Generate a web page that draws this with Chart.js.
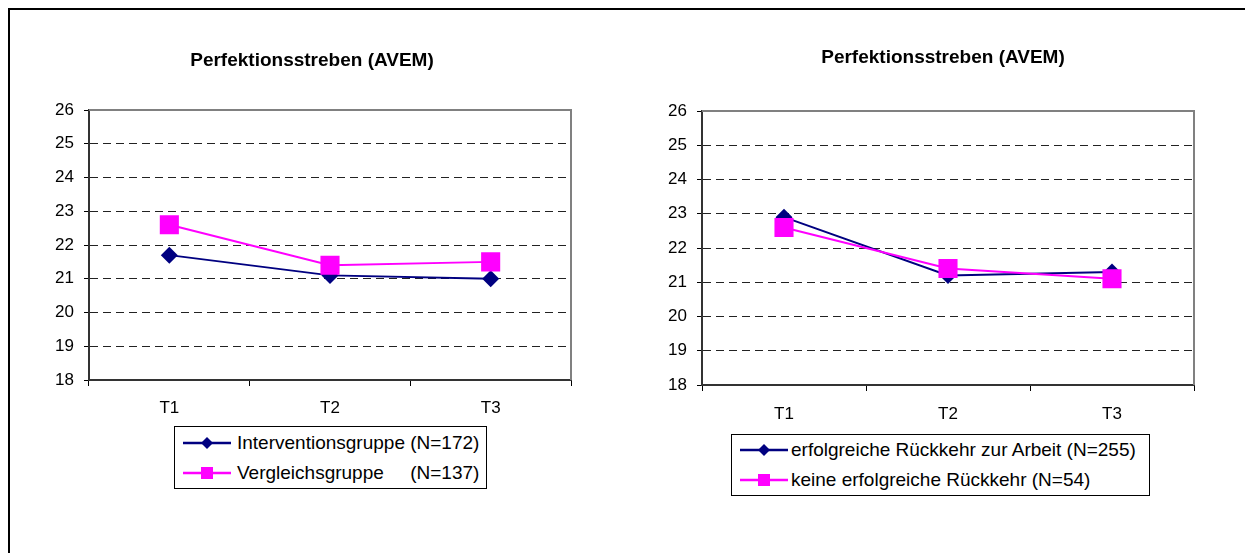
<!DOCTYPE html>
<html>
<head>
<meta charset="utf-8">
<script src="https://cdn.jsdelivr.net/npm/chart.js@4/dist/chart.umd.min.js"></script>
<style>
  html, body { margin: 0; padding: 0; background: #fff; font-family: 'Liberation Sans', Arial, sans-serif; overflow: hidden; }
  #page { position: relative; width: 1245px; height: 553px; overflow: hidden; }
  #frameTop { position: absolute; left: 8px; top: 8px; width: 1237px; height: 2px; background: #000; }
  #frameLeft { position: absolute; left: 8px; top: 8px; width: 2px; height: 545px; background: #000; }
  canvas { position: absolute; top: 0; }
  .title { position: absolute; width: 400px; text-align: center; font-weight: bold;
           font-size: 19px; line-height: 22px; color: #000; }
  .legend { position: absolute; border: 1px solid #000; background: #fff; box-sizing: border-box; }
  .row { position: absolute; left: 0; height: 22px; white-space: pre; font-size: 19px; line-height: 22px; color: #000; }
  .row svg { position: absolute; left: 0; top: 0; }
  .row span { position: absolute; top: 0; }
</style>
</head>
<body>
<div id="page">
  <div id="frameTop"></div>
  <div id="frameLeft"></div>
  <canvas id="chartLeft" width="622" height="553" style="left:0"></canvas>
  <canvas id="chartRight" width="623" height="553" style="left:622px"></canvas>

  <div class="title" style="left:112px; top:49px">Perfektionsstreben (AVEM)</div>
  <div class="title" style="left:743px; top:46px">Perfektionsstreben (AVEM)</div>

  <div class="legend" id="legendLeft" style="left:174px; top:426px; width:313px; height:63px"></div>
  <div class="legend" id="legendRight" style="left:731px; top:434px; width:419px; height:62px"></div>
</div>

<script>
// categories and values
const timepoints = ['T1', 'T2', 'T3'];
const yTicks = [18, 19, 20, 21, 22, 23, 24, 25, 26];

const leftSeriesNames = ['Interventionsgruppe (N=172)', 'Vergleichsgruppe     (N=137)'];
const interventionValues = [21.7, 21.1, 21.0];
const comparisonValues = [22.6, 21.4, 21.5];

const rightSeriesNames = ['erfolgreiche Rückkehr zur Arbeit (N=255)', 'keine erfolgreiche Rückkehr (N=54)'];
const returnValues = [22.9, 21.2, 21.3];
const noReturnValues = [22.6, 21.4, 21.1];

const NAVY = '#000080';
const PINK = '#FF00FF';
const FONT = "'Liberation Sans', Arial, sans-serif";

// gray plot frame (top + right), drawn after the datasets
const plotFrame = {
    id: 'plotFrame',
    afterDatasetsDraw(chart) {
        const a = chart.chartArea;
        const ctx = chart.ctx;
        ctx.save();
        ctx.strokeStyle = '#808080';
        ctx.lineWidth = 2;
        ctx.beginPath();
        ctx.moveTo(a.left, a.top);
        ctx.lineTo(a.right, a.top);
        ctx.lineTo(a.right, a.bottom);
        ctx.stroke();
        ctx.restore();
    }
};

function makeChart(id, names, first, second, layout) {
    return new Chart(document.getElementById(id), {
        type: 'line',
        data: {
            labels: timepoints,
            datasets: [{
                label: names[0],
                data: first,
                borderColor: NAVY,
                backgroundColor: NAVY,
                borderWidth: 2,
                pointStyle: 'rectRot',
                pointRadius: 8.5,
                pointBorderWidth: 0,
                order: 2
            }, {
                label: names[1],
                data: second,
                borderColor: PINK,
                backgroundColor: PINK,
                borderWidth: 2,
                pointStyle: 'rect',
                pointRadius: 13.5,
                pointBorderWidth: 0,
                order: 1
            }]
        },
        options: {
            responsive: false,
            animation: false,
            devicePixelRatio: 1,
            layout: { padding: layout.padding },
            plugins: {
                legend: { display: false },
                title: { display: false },
                tooltip: { enabled: false }
            },
            scales: {
                x: {
                    offset: true,
                    afterFit(scale) { scale.height = layout.xHeight; },
                    grid: {
                        offset: true,
                        drawOnChartArea: false,
                        drawTicks: true,
                        tickLength: 6,
                        tickColor: '#000',
                        tickWidth: 1
                    },
                    border: { display: true, color: '#333', width: 2 },
                    ticks: {
                        color: '#000',
                        font: { family: FONT, size: 17 },
                        padding: layout.xPad,
                        maxRotation: 0
                    }
                },
                y: {
                    min: yTicks[0],
                    max: yTicks[yTicks.length - 1],
                    afterFit(scale) { scale.width = layout.yWidth; },
                    afterBuildTicks(scale) { scale.ticks = yTicks.map(v => ({ value: v })); },
                    grid: {
                        color: ctx => (ctx.tick && (ctx.tick.value === 18 || ctx.tick.value === 26)) ? 'rgba(0,0,0,0)' : '#222',
                        lineWidth: 1,
                        tickLength: 5,
                        tickColor: '#000',
                        tickBorderDash: [],
                        tickWidth: 1
                    },
                    border: { display: true, color: '#333', width: 2, dash: [8, 5] },
                    ticks: {
                        color: '#000',
                        font: { family: FONT, size: 17 },
                        padding: 10
                    }
                }
            }
        },
        plugins: [plotFrame]
    });
}

const leftChart = makeChart('chartLeft', leftSeriesNames, interventionValues, comparisonValues, {
    padding: { left: 0, top: 110, right: 51, bottom: 133 },
    yWidth: 89, xHeight: 40, xPad: 12
});
const rightChart = makeChart('chartRight', rightSeriesNames, returnValues, noReturnValues, {
    padding: { left: 0, top: 111, right: 51, bottom: 128 },
    yWidth: 80, xHeight: 40, xPad: 13
});

// HTML legends
function buildLegend(elId, names, lineLen, textX, rowTops) {
    const el = document.getElementById(elId);
    const styles = [
        { color: NAVY, marker: '<polygon points="MX,5 MR,11 MX,17 ML,11" fill="' + NAVY + '"/>' },
        { color: PINK, marker: '<rect x="SX" y="5" width="12" height="12" fill="' + PINK + '"/>' }
    ];
    names.forEach((name, i) => {
        const mid = 8 + lineLen / 2;
        const marker = styles[i].marker
            .replace(/MX/g, mid).replace('MR', mid + 6).replace('ML', mid - 6)
            .replace('SX', mid - 6);
        const row = document.createElement('div');
        row.className = 'row';
        row.style.top = rowTops[i] + 'px';
        row.style.width = (textX + 400) + 'px';
        row.innerHTML =
            '<svg width="' + (lineLen + 16) + '" height="22">' +
            '<line x1="8" y1="11" x2="' + (8 + lineLen) + '" y2="11" stroke="' + styles[i].color + '" stroke-width="2.5"/>' +
            marker + '</svg>' +
            '<span style="left:' + textX + 'px">' + name + '</span>';
        el.appendChild(row);
    });
}
buildLegend('legendLeft', leftSeriesNames, 48, 62, [5, 35]);
buildLegend('legendRight', rightSeriesNames, 48, 59, [4, 34]);
</script>
</body>
</html>
